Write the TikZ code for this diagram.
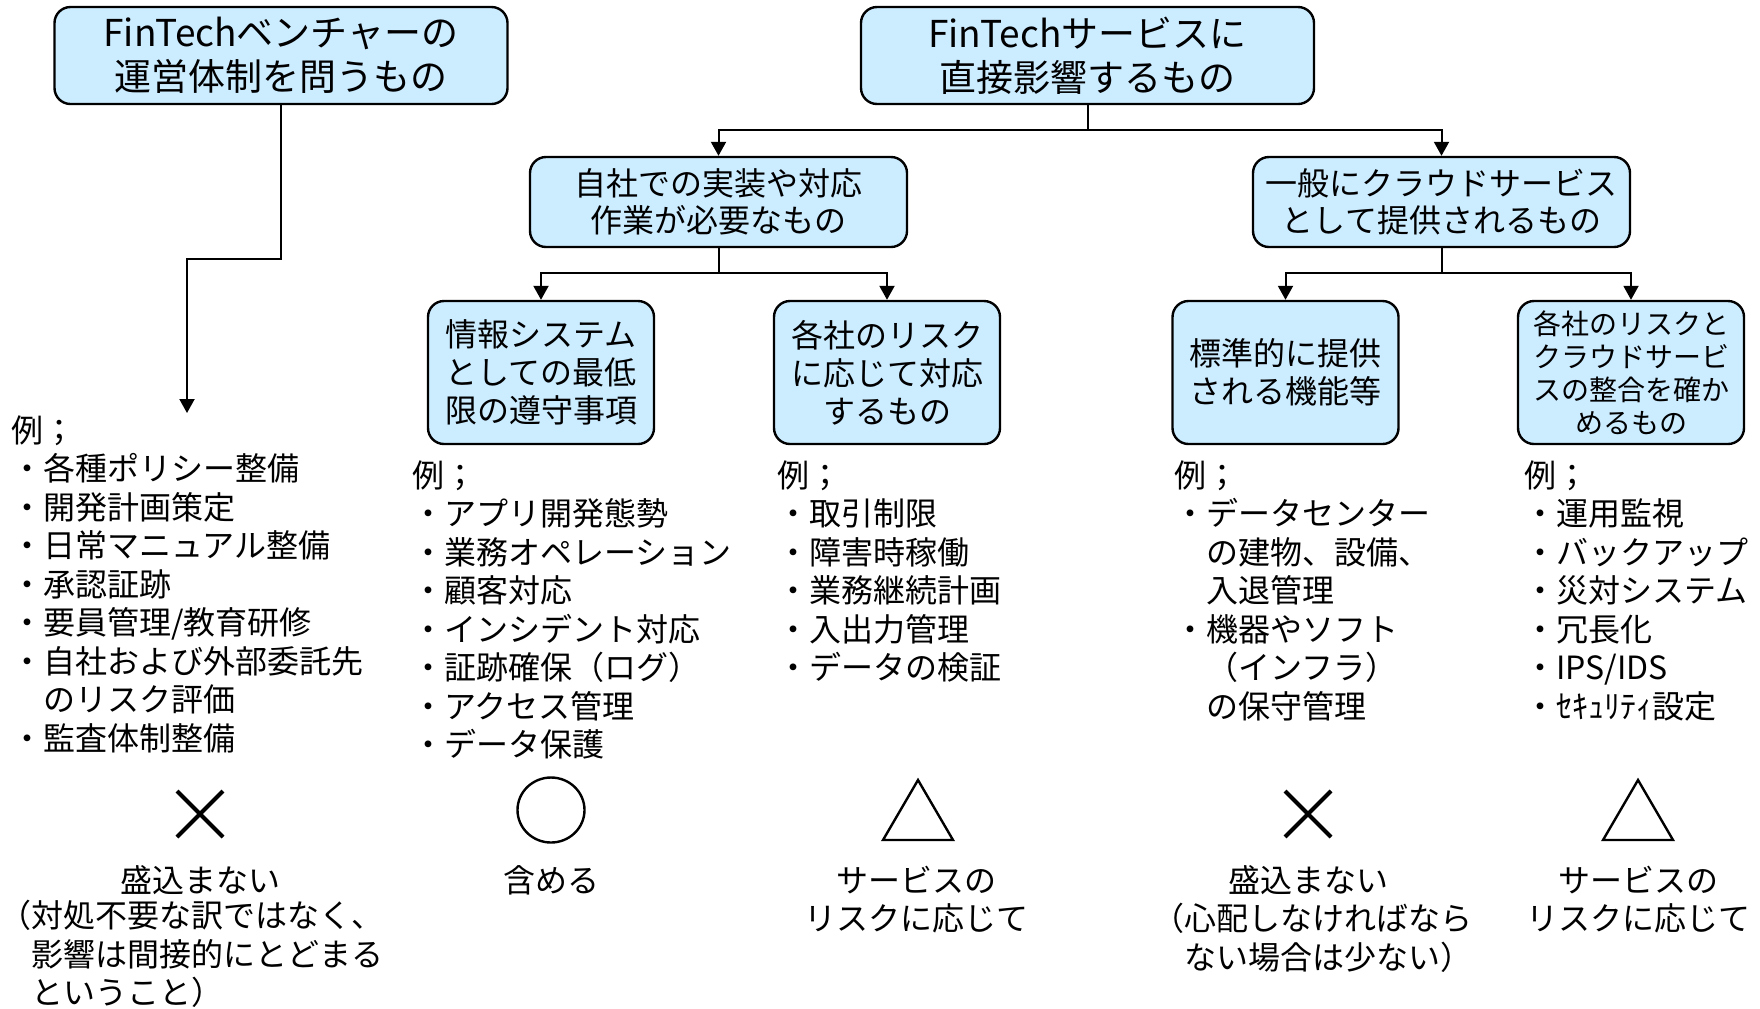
\documentclass[tikz,border=0pt]{standalone}
\usepackage{fontspec}
\setmainfont{Noto Sans CJK JP}
\usetikzlibrary{arrows.meta}
\definecolor{boxfill}{RGB}{204,236,255}
\begin{document}
\begin{tikzpicture}[x=0.5pt,y=-0.5pt,
  box/.style={draw=black,line width=1.2pt,fill=boxfill,rounded corners=8pt,align=center,inner sep=0pt},
  conn/.style={line width=1pt},
  arr/.style={line width=1pt,-{Triangle[length=7pt,width=7.5pt]}},
  listtext/.style={anchor=north west,align=left,inner sep=0pt,font=\fontsize{16}{19.25}\selectfont},
  captext/.style={align=center,inner sep=0pt,font=\fontsize{16}{19.25}\selectfont},
  symx/.style={line width=2pt},
  shp/.style={line width=1.2pt},
]
\useasboundingbox (0,0) rectangle (1760,1008);

% top boxes
\node[box,minimum width=226.5pt,minimum height=48.5pt,font=\fontsize{18.5}{22}\selectfont] (A) at (281,55.5) {FinTechベンチャーの\\運営体制を問うもの};
\node[box,minimum width=226.5pt,minimum height=48.5pt,font=\fontsize{18.5}{22}\selectfont] (B) at (1087.5,55.5) {FinTechサービスに\\直接影響するもの};

% second level
\node[box,minimum width=188.5pt,minimum height=45pt,font=\fontsize{16}{18.5}\selectfont] (C) at (718.5,202) {自社での実装や対応\\作業が必要なもの};
\node[box,minimum width=188.5pt,minimum height=45pt,font=\fontsize{16}{18.5}\selectfont] (D) at (1441.5,202) {一般にクラウドサービス\\として提供されるもの};

% third level
\node[box,minimum width=113pt,minimum height=71.5pt,font=\fontsize{16}{19}\selectfont] (E) at (541,372.5) {情報システム\\としての最低\\限の遵守事項};
\node[box,minimum width=113pt,minimum height=71.5pt,font=\fontsize{16}{19}\selectfont] (F) at (887,372.5) {各社のリスク\\に応じて対応\\するもの};
\node[box,minimum width=113pt,minimum height=71.5pt,font=\fontsize{16}{19}\selectfont] (G) at (1285.5,372.5) {標準的に提供\\される機能等};
\node[box,minimum width=113pt,minimum height=71.5pt,font=\fontsize{14}{16.5}\selectfont] (H) at (1631,372.5) {各社のリスクと\\クラウドサービ\\スの整合を確か\\めるもの};

% connectors
\coordinate (ah) at (187,259);
\coordinate (aend) at (187,413);
\draw[arr] (A.south) |- (ah) -- (aend);

\coordinate (bj) at (1087.5,130);
\draw[conn] (B.south) -- (bj);
\draw[arr] (bj) -| (C.north);
\draw[arr] (bj) -| (D.north);

\coordinate (cj) at (718.5,273);
\draw[conn] (C.south) -- (cj);
\draw[arr] (cj) -| (E.north);
\draw[arr] (cj) -| (F.north);

\coordinate (dj) at (1441.5,273);
\draw[conn] (D.south) -- (dj);
\draw[arr] (dj) -| (G.north);
\draw[arr] (dj) -| (H.north);

% example lists
\node[listtext] (L1) at (11,415) {例；\\・各種ポリシー整備\\・開発計画策定\\・日常マニュアル整備\\・承認証跡\\・要員管理/教育研修\\・自社および外部委託先\\\hspace*{1em}のリスク評価\\・監査体制整備};
\node[listtext] (L2) at (412,460) {例；\\・アプリ開発態勢\\・業務オペレーション\\・顧客対応\\・インシデント対応\\・証跡確保（ログ）\\・アクセス管理\\・データ保護};
\node[listtext] (L3) at (777,460) {例；\\・取引制限\\・障害時稼働\\・業務継続計画\\・入出力管理\\・データの検証};
\node[listtext] (L4) at (1174,460) {例；\\・データセンター\\\hspace*{1em}の建物、設備、\\\hspace*{1em}入退管理\\・機器やソフト\\\hspace*{1em}（インフラ）\\\hspace*{1em}の保守管理};
\node[listtext] (L5) at (1524,460) {例；\\・運用監視\\・バックアップ\\・災対システム\\・冗長化\\・IPS/IDS\\・ｾｷｭﾘﾃｨ設定};

% symbols
\draw[symx] (177,791) -- (223,837) (223,791) -- (177,837);
\draw[shp] (551,810) ellipse [x radius=33.5, y radius=32.5];
\draw[shp] (918,780) -- (953,840) -- (883,840) -- cycle;
\draw[symx] (1285,791) -- (1331,837) (1331,791) -- (1285,837);
\draw[shp] (1638,780) -- (1673,840) -- (1603,840) -- cycle;

% captions
\node[captext] (c1a) at (200,880) {盛込まない};
\node[listtext] (c1b) at (-1,900) {（対処不要な訳ではなく、\\\hspace*{1em}影響は間接的にとどまる\\\hspace*{1em}ということ）};
\node[captext] (c2) at (551,880) {含める};
\node[captext] (c3) at (916,899.5) {サービスの\\リスクに応じて};
\node[captext] (c4a) at (1308,880) {盛込まない};
\node[listtext] (c4b) at (1152,903) {（心配しなければなら\\\hspace*{1em}ない場合は少ない）};
\node[captext] (c5) at (1638,899.5) {サービスの\\リスクに応じて};
\end{tikzpicture}
\end{document}
